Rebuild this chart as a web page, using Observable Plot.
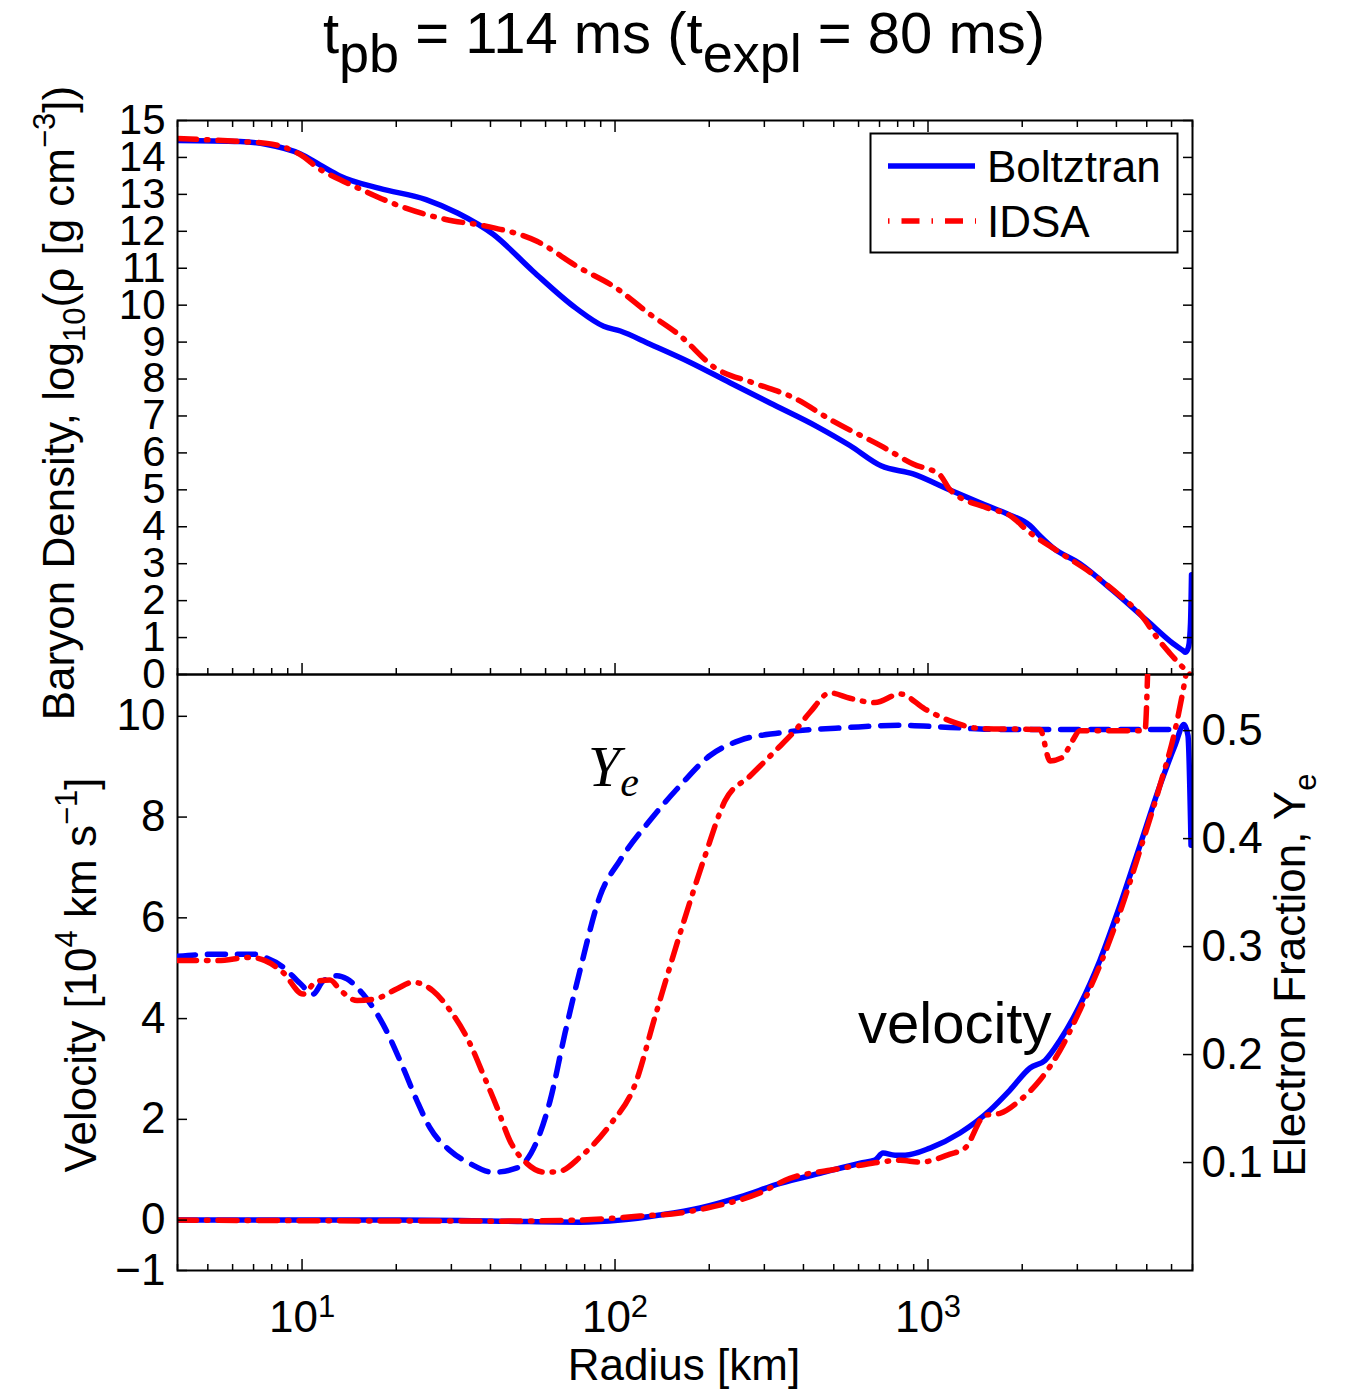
<!DOCTYPE html>
<html>
<head>
<meta charset="utf-8">
<script src="https://cdn.jsdelivr.net/npm/d3@7"></script>
<script src="https://cdn.jsdelivr.net/npm/@observablehq/plot@0.6"></script>
<style>
  body { margin: 0; background: #fff; }
  #wrap { position: relative; width: 1345px; height: 1390px; overflow: hidden; }
  #wrap svg { position: absolute; left: 0; max-width: none; }
</style>
</head>
<body>
<div id="wrap"></div>
<script>
// ---------------- data (radius in km) ----------------
const densityBoltztran = [
  [4,14.46],[6.34,14.43],[7.73,14.35],[9.85,14.1],[11.4,13.8],[13.2,13.5],[17.7,13.16],[24.9,12.86],
  [31.5,12.49],[40.8,11.92],[54.7,10.92],[75,9.92],[92,9.43],[104,9.3],[129,8.95],[174,8.45],[233,7.9],
  [313,7.35],[445,6.7],[563,6.2],[708,5.65],[896,5.43],[1150,5.03],[1466,4.65],[1788,4.35],[2118,4.03],
  [2280,3.75],[2508,3.43],[3059,3.0],[3900,2.27],[5009,1.46],[6065,0.84],[6526,0.65],[6650,0.6],
  [6800,0.75],[6900,1.4],[6950,2.7]
];
const densityIDSA = [
  [4,14.51],[6.34,14.43],[7.73,14.38],[9.85,14.08],[11.4,13.68],[13.2,13.4],[15.2,13.16],[20.6,12.68],
  [28.8,12.32],[38.7,12.14],[56.3,11.73],[75.6,11.05],[101,10.46],[128,9.78],[160,9.2],[209,8.3],
  [278,7.89],[373,7.49],[497,6.86],[708,6.19],[896,5.7],[1092,5.4],[1176,5.0],[1544,4.51],[1830,4.3],
  [2110,3.85],[2584,3.35],[3410,2.68],[4100,2.14],[4950,1.46],[5234,1.15],[5500,0.9],[5933,0.57],
  [6390,0.27],[6874,0.0]
];
const velocityBoltztran = [
  [4,0],[20.6,0],[42.9,-0.02],[77.3,-0.04],[104,0],[139,0.1],[187,0.24],[251,0.46],[337,0.73],
  [452,0.93],[607,1.13],[677,1.19],[718,1.33],[785,1.29],[845,1.29],[1015,1.43],[1265,1.73],
  [1578,2.18],[1828,2.58],[2118,3.02],[2365,3.17],[2641,3.57],[3059,4.27],[3544,5.16],[4106,6.25],
  [4757,7.44],[5511,8.63],[6154,9.42],[6574,9.84],[6771,9.62],[6925,7.44]
];
const velocityIDSA = [
  [4,0],[42.9,-0.02],[77.3,0],[120,0.08],[161,0.14],[197,0.24],[290,0.54],[362,0.83],[486,0.99],
  [607,1.09],[702,1.15],[814,1.19],[943,1.15],[1176,1.31],[1313,1.43],[1521,2.08],[1698,2.12],
  [1968,2.38],[2280,2.78],[2641,3.37],[3059,4.17],[3544,5.06],[4106,6.11],[4757,7.34],[5511,8.63],
  [6154,9.72],[6526,10.5],[6874,11.3]
];
const yeBoltztran = [
  [4,0.291],[5.35,0.293],[6.97,0.293],[7.62,0.29],[8.7,0.281],[9.85,0.266],[10.84,0.256],[11.67,0.268],
  [12.94,0.273],[13.92,0.27],[15.66,0.256],[18.15,0.228],[21.02,0.188],[23.3,0.157],[25.64,0.132],
  [29.71,0.111],[34.42,0.099],[40.76,0.091],[48.63,0.095],[56.33,0.12],[61.99,0.157],[69.23,0.22],
  [77.29,0.278],[89.58,0.347],[103.8,0.38],[129.4,0.417],[161.3,0.449],[201.2,0.477],[250.8,0.491],
  [336.7,0.498],[563.4,0.503],[813.8,0.505],[1176,0.503],[1698,0.501],[6386,0.501]
];
const yeIDSA = [
  [4,0.287],[5.35,0.287],[6.82,0.29],[7.62,0.287],[8.7,0.276],[10.07,0.256],[11.16,0.268],[12.29,0.269],
  [13.22,0.26],[14.99,0.25],[17.36,0.252],[20.12,0.261],[22.63,0.267],[26.21,0.259],[29.71,0.241],
  [34.42,0.21],[37.87,0.182],[41.98,0.151],[46.18,0.12],[52.35,0.099],[59.76,0.091],[66.73,0.092],
  [77.29,0.105],[96.4,0.135],[115.8,0.172],[134.2,0.235],[161.3,0.312],[193.9,0.384],[224.6,0.435],
  [270,0.458],[324.5,0.481],[376,0.5],[419.8,0.517],[486.4,0.535],[563.4,0.53],[677.2,0.526],
  [813.8,0.534],[978.1,0.52],[1176,0.509],[1466,0.502],[2280,0.501],[2454,0.472],[2680,0.475],
  [2885,0.49],[3059,0.5],[4936,0.5],[5121,0.6],[6874,0.6]
];
// tick values
const xMajor = [10, 100, 1000];
const xMinor = [4,5,6,7,8,9,20,30,40,50,60,70,80,90,200,300,400,500,600,700,800,900,2000,3000,4000,5000,6000,7000];
const rhoTicks = d3.range(0, 16);
const velTicks = [-1, 0, 2, 4, 6, 8, 10];
const yeTicks = [0.1, 0.2, 0.3, 0.4, 0.5];
const seriesNames = ["Boltztran", "IDSA"];

// ---------------- styles ----------------
const W = 1345;
const FONT = "Liberation Sans, Arial, Helvetica, sans-serif";
const BLUE = "#0000ff", RED = "#ff0000";
const LW = 5.5;
const DASH = "18,12";
const DASHDOT = "19,10,1.5,10";
const CURVE = "monotone-x";
const baseStyle = {fontFamily: FONT, background: "transparent", overflow: "visible", color: "black"};
const pt = d => ({r: d[0], v: d[1]});
const fmtMinus = d => d < 0 ? "\u2212" + (-d) : String(d);

function xTickMarks(anchor) {
  return [
    Plot.axisX(xMajor, {anchor, tickSize: -11, fill: "none", label: null, strokeWidth: 1.5, stroke: "black"}),
    Plot.axisX(xMinor, {anchor, tickSize: -6, fill: "none", label: null, strokeWidth: 1.5, stroke: "black"})
  ];
}

// ---------------- top panel: density ----------------
const topPlot = Plot.plot({
  width: W, height: 680,
  marginTop: 120, marginBottom: 6, marginLeft: 177, marginRight: 153,
  style: baseStyle,
  x: {type: "log", domain: [4, 7000]},
  y: {domain: [0, 15]},
  marks: [
    Plot.line(densityBoltztran.map(pt), {x: "r", y: "v", stroke: BLUE, strokeWidth: LW, curve: CURVE, clip: true}),
    Plot.line(densityIDSA.map(pt), {x: "r", y: "v", stroke: RED, strokeWidth: LW, strokeDasharray: DASHDOT, curve: CURVE, clip: true}),
    Plot.frame({stroke: "black", strokeWidth: 2}),
    ...xTickMarks("top"), ...xTickMarks("bottom"),
    Plot.axisY(rhoTicks, {anchor: "left", tickSize: -10, fill: "none", label: null, strokeWidth: 1.5, stroke: "black"}),
    Plot.axisY(rhoTicks, {anchor: "right", tickSize: -10, fill: "none", label: null, strokeWidth: 1.5, stroke: "black"}),
    Plot.axisY(rhoTicks, {anchor: "left", tickSize: 0, tickPadding: 12, fontSize: 42, label: null, fill: "black"})
  ]
});
topPlot.style.top = "0px";

// ---------------- bottom panel: velocity ----------------
const botPlot = Plot.plot({
  width: W, height: 730,
  marginTop: 14, marginBottom: 120, marginLeft: 177, marginRight: 153,
  style: baseStyle,
  x: {type: "log", domain: [4, 7000]},
  y: {domain: [-1, 10.83]},
  marks: [
    Plot.line(velocityBoltztran.map(pt), {x: "r", y: "v", stroke: BLUE, strokeWidth: LW, curve: CURVE, clip: true}),
    Plot.line(velocityIDSA.map(pt), {x: "r", y: "v", stroke: RED, strokeWidth: LW, strokeDasharray: DASHDOT, curve: CURVE, clip: true}),
    Plot.frame({stroke: "black", strokeWidth: 2}),
    ...xTickMarks("bottom"),
    Plot.axisX(xMajor, {anchor: "bottom", tickSize: 0, tickPadding: 30, fontSize: 44, fill: "black", label: null,
      tickFormat: d => "10^" + Math.round(Math.log10(d))}),
    Plot.axisY(velTicks, {anchor: "left", tickSize: -10, fill: "none", label: null, strokeWidth: 1.5, stroke: "black"}),
    Plot.axisY(velTicks, {anchor: "left", tickSize: 0, tickPadding: 12, fontSize: 44, label: null, fill: "black", tickFormat: fmtMinus})
  ]
});
botPlot.style.top = "660px";

// ---------------- bottom panel: electron fraction (right axis) ----------------
const yePlot = Plot.plot({
  width: W, height: 730,
  marginTop: 14, marginBottom: 120, marginLeft: 177, marginRight: 153,
  style: baseStyle,
  x: {type: "log", domain: [4, 7000], axis: null},
  y: {domain: [0, 0.552], axis: null},
  marks: [
    Plot.line(yeBoltztran.map(pt), {x: "r", y: "v", stroke: BLUE, strokeWidth: LW, strokeDasharray: DASH, curve: CURVE, clip: true}),
    Plot.line(yeIDSA.map(pt), {x: "r", y: "v", stroke: RED, strokeWidth: LW, strokeDasharray: DASHDOT, curve: CURVE, clip: true}),
    Plot.axisY(yeTicks, {anchor: "right", tickSize: -10, fill: "none", label: null, strokeWidth: 1.5, stroke: "black"}),
    Plot.axisY(yeTicks, {anchor: "right", tickSize: 0, tickPadding: 9, fontSize: 44, label: null, fill: "black", tickFormat: d3.format(".1f")})
  ]
});
yePlot.style.top = "660px";

const wrap = document.getElementById("wrap");
wrap.appendChild(topPlot);
wrap.appendChild(botPlot);
wrap.appendChild(yePlot);

// superscript exponents on the x tick labels
d3.select(botPlot).selectAll('g[aria-label="x-axis tick label"] text').each(function() {
  const t = d3.select(this);
  const s = t.text();
  if (!s.includes("^")) return;
  const [base, exp] = s.split("^");
  t.text(base);
  t.append("tspan").attr("dy", "-15").attr("font-size", "31").text(exp);
});

// ---------------- titles, labels, legend, annotations ----------------
const ns = "http://www.w3.org/2000/svg";
const over = document.createElementNS(ns, "svg");
over.setAttribute("width", W);
over.setAttribute("height", 1390);
over.style.top = "0px";
over.style.pointerEvents = "none";
over.setAttribute("font-family", FONT);
over.innerHTML = `
  <g style="white-space:pre" fill="black">
    <text x="684" y="53" text-anchor="middle" font-size="58">t<tspan dy="19" font-size="54">pb</tspan><tspan dy="-19"> = 114 ms (t</tspan><tspan dy="19" font-size="54">expl</tspan><tspan dy="-19"> = 80 ms)</tspan></text>
    <text transform="translate(74,403) rotate(-90)" text-anchor="middle" font-size="44">Baryon Density, log<tspan dy="11" font-size="31">10</tspan><tspan dy="-11">(ρ [g cm</tspan><tspan dy="-19" font-size="31">−3</tspan><tspan dy="19">])</tspan></text>
    <text transform="translate(96,975) rotate(-90)" text-anchor="middle" font-size="44">Velocity [10<tspan dy="-19" font-size="31">4</tspan><tspan dy="19"> km s</tspan><tspan dy="-19" font-size="31">−1</tspan><tspan dy="19">]</tspan></text>
    <text transform="translate(1305,975) rotate(-90)" text-anchor="middle" font-size="44">Electron Fraction, Y<tspan dy="11" font-size="31">e</tspan></text>
    <text x="684" y="1380" text-anchor="middle" font-size="44">Radius [km]</text>
    <text x="588" y="786" font-size="58" font-family="Liberation Serif, Times New Roman, serif" font-style="italic">Y<tspan dy="10" font-size="42">e</tspan></text>
    <text x="858" y="1043" font-size="58">velocity</text>
  </g>
  <g>
    <rect x="870.5" y="133.5" width="307" height="119" fill="white" stroke="black" stroke-width="2"/>
    <line x1="888" y1="166" x2="975" y2="166" stroke="${BLUE}" stroke-width="${LW}"/>
    <line x1="888" y1="221" x2="976" y2="221" stroke="${RED}" stroke-width="${LW}" stroke-dasharray="1.5,12,18,12"/>
    <text x="987" y="182" font-size="44">${seriesNames[0]}</text>
    <text x="987" y="237" font-size="44">${seriesNames[1]}</text>
  </g>`;
wrap.appendChild(over);
</script>
</body>
</html>
